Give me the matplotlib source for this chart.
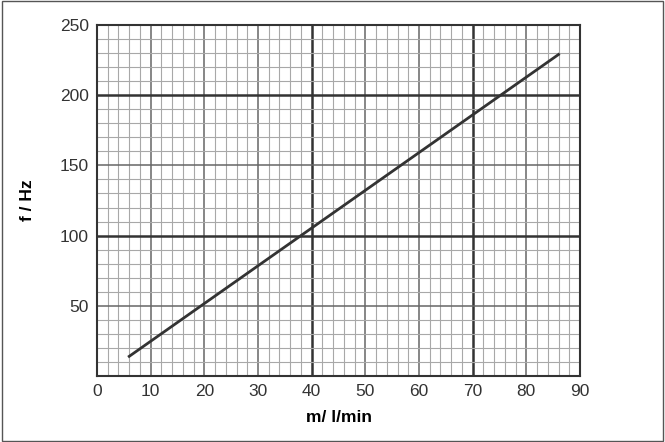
import matplotlib
matplotlib.use("Agg")
import matplotlib.pyplot as plt
import numpy as np

plt.rcParams['font.family'] = ['Liberation Sans', 'DejaVu Sans']

m = [6, 86]
f = [14, 229]

fig = plt.figure(figsize=(6.65, 4.42), dpi=100)
ax = fig.add_axes([97/665, (442-376)/442, (580-97)/665, (376-25)/442])
ax.set_xlim(0, 90); ax.set_ylim(0, 250)
for x in np.arange(0, 91, 2):
    if x in (40, 70):
        lw, c = 1.8, '#333333'
    elif x % 10 == 0:
        lw, c = 1.1, '#666666'
    else:
        lw, c = 0.8, '#a8a8a8'
    ax.axvline(x, lw=lw, color=c, zorder=1)
for y in np.arange(0, 251, 10):
    if y in (100, 200):
        lw, c = 1.8, '#333333'
    elif y % 50 == 0:
        lw, c = 1.1, '#666666'
    else:
        lw, c = 0.8, '#a8a8a8'
    ax.axhline(y, lw=lw, color=c, zorder=1)
ax.plot(m, f, color='#333333', lw=2, zorder=3)
ax.set_xticks(range(0, 91, 10))
ax.set_yticks(range(50, 251, 50))
ax.tick_params(length=0, labelsize=12.5, colors='#333333', pad=6)
for s in ax.spines.values():
    s.set_color('#333333'); s.set_linewidth(1.5)
ax.set_xlabel('m/ l/min', fontsize=12.5, fontweight='bold', labelpad=8)
ax.set_ylabel('f / Hz', fontsize=12.5, fontweight='bold', labelpad=18)
fig.patches.append(plt.Rectangle((0.003, 0.003), 0.994, 0.994, transform=fig.transFigure,
                                 fill=False, edgecolor='#555555', lw=1))
fig.savefig('out.png', dpi=100)
